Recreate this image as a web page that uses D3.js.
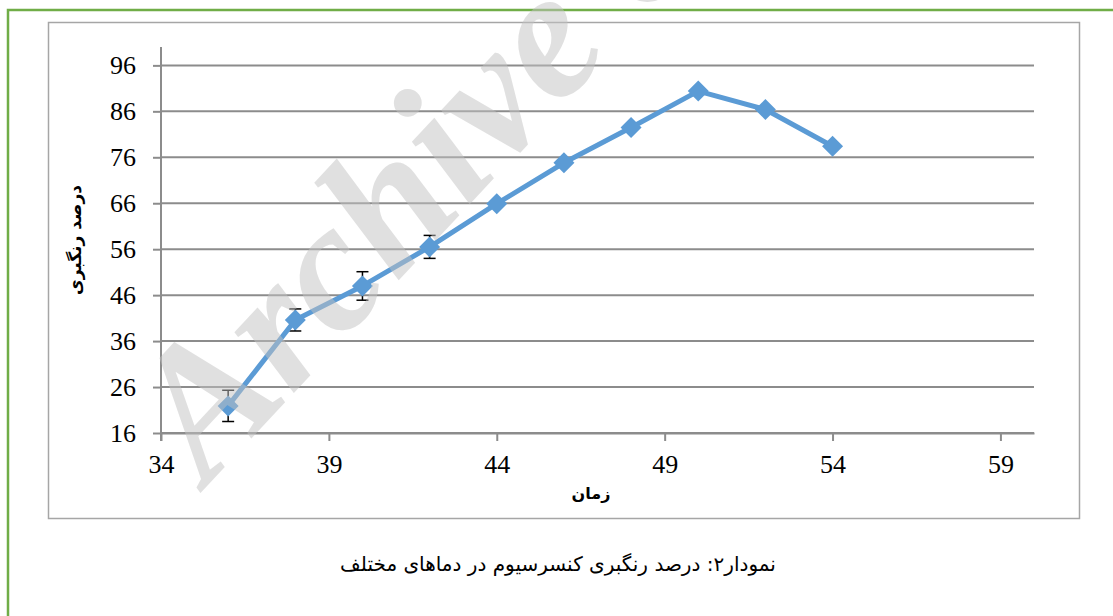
<!DOCTYPE html>
<html>
<head>
<meta charset="utf-8">
<script src="https://cdn.jsdelivr.net/npm/d3@7"></script>
<style>
  body { margin: 0; background: #fff; }
  svg { display: block; }
</style>
</head>
<body>
<svg width="1113" height="616"></svg>
<script>
var width = 1113, height = 616

// data
var times = [36, 38, 40, 42, 44, 46, 48, 50, 52, 54]
var percents = [21.9, 40.6, 48.0, 56.5, 65.9, 74.8, 82.5, 90.4, 86.4, 78.4]
var errors = [3.4, 2.4, 3.1, 2.5, 0, 0, 0, 0, 0, 0]
var xTicks = [34, 39, 44, 49, 54, 59]
var yTicks = [16, 26, 36, 46, 56, 66, 76, 86, 96]

var xTitle = "زمان"
var yTitle = "درصد رنگبری"
var caption = "نمودار۲: درصد رنگبری کنسرسیوم در دماهای مختلف"
var watermark = "Archive of SID"

var blue = "#5B9BD5", grid = "#8c8c8c"

var svg = d3.select("svg")

var x = d3.scaleLinear().domain([34, 60]).range([161, 1034])
var y = d3.scaleLinear().domain([16, 100]).range([433, 47])

// outer green frame and chart box
svg.append("rect")
  .attr("x", 8).attr("y", 10).attr("width", 1120).attr("height", 620)
  .attr("fill", "none").attr("stroke", "#70AD47").attr("stroke-width", 2.5)

svg.append("rect")
  .attr("x", 48.5).attr("y", 22.5).attr("width", 1031).attr("height", 496)
  .attr("fill", "none").attr("stroke", "#a6a6a6").attr("stroke-width", 1.5)

// horizontal grid lines
svg.append("g").selectAll("line")
  .data(yTicks)
  .enter().append("line")
  .attr("x1", x(34)).attr("x2", x(60))
  .attr("y1", function(d) { return y(d) })
  .attr("y2", function(d) { return y(d) })
  .attr("stroke", grid).attr("stroke-width", 2)

// axes
var yAxis = svg.append("g")
  .attr("transform", "translate(" + x(34) + ",0)")
  .call(d3.axisLeft(y).tickValues(yTicks).tickSize(8).tickPadding(17).tickSizeOuter(0))

var xAxis = svg.append("g")
  .attr("transform", "translate(0," + y(16) + ")")
  .call(d3.axisBottom(x).tickValues(xTicks).tickSize(8).tickPadding(14).tickSizeOuter(0))

svg.selectAll(".domain").attr("stroke", grid).attr("stroke-width", 2)
svg.selectAll(".tick line").attr("stroke", grid).attr("stroke-width", 2)
svg.selectAll(".tick text")
  .attr("font-family", "'Liberation Serif', 'Times New Roman', serif")
  .attr("font-size", 26).attr("fill", "#000")

yAxis.select(".domain").attr("d", "M0," + y(100) + "V" + (y(16) + 8))

// axis titles
svg.append("text")
  .attr("transform", "translate(81,240) rotate(-90)")
  .attr("text-anchor", "middle")
  .attr("font-family", "'DejaVu Sans', sans-serif")
  .attr("font-weight", "bold").attr("font-size", 17)
  .text(yTitle)

svg.append("text")
  .attr("x", 591).attr("y", 499)
  .attr("text-anchor", "middle")
  .attr("font-family", "'DejaVu Sans', sans-serif")
  .attr("font-weight", "bold").attr("font-size", 16)
  .text(xTitle)

// error bars
var eb = svg.append("g").selectAll("g")
  .data(times.map(function(t, i) { return {t: t, v: percents[i], e: errors[i]} }).filter(function(d) { return d.e > 0 }))
  .enter().append("g")
  .attr("stroke", "#000").attr("stroke-width", 1.5)

eb.append("line")
  .attr("x1", function(d) { return x(d.t) }).attr("x2", function(d) { return x(d.t) })
  .attr("y1", function(d) { return y(d.v - d.e) }).attr("y2", function(d) { return y(d.v + d.e) })
eb.append("line")
  .attr("x1", function(d) { return x(d.t) - 6 }).attr("x2", function(d) { return x(d.t) + 6 })
  .attr("y1", function(d) { return y(d.v + d.e) }).attr("y2", function(d) { return y(d.v + d.e) })
eb.append("line")
  .attr("x1", function(d) { return x(d.t) - 6 }).attr("x2", function(d) { return x(d.t) + 6 })
  .attr("y1", function(d) { return y(d.v - d.e) }).attr("y2", function(d) { return y(d.v - d.e) })

// series line and diamond markers
var line = d3.line()
  .x(function(d, i) { return x(times[i]) })
  .y(function(d) { return y(d) })

svg.append("path")
  .datum(percents)
  .attr("d", line)
  .attr("fill", "none").attr("stroke", blue)
  .attr("stroke-width", 5).attr("stroke-linejoin", "round")

svg.append("g").selectAll("path")
  .data(percents)
  .enter().append("path")
  .attr("d", "M0,-10.5L10.5,0L0,10.5L-10.5,0Z")
  .attr("transform", function(d, i) { return "translate(" + x(times[i]) + "," + y(d) + ")" })
  .attr("fill", blue)

// caption
svg.append("text")
  .attr("x", 558).attr("y", 571)
  .attr("text-anchor", "middle")
  .attr("font-family", "'DejaVu Sans', sans-serif")
  .attr("font-size", 20)
  .text(caption)

// watermark over everything
svg.append("text")
  .attr("transform", "translate(207,486) rotate(-47)")
  .attr("font-family", "'Liberation Serif', 'Times New Roman', serif")
  .attr("font-weight", "bold").attr("font-style", "italic")
  .attr("font-size", 185)
  .attr("fill", "#c2c2c2").attr("fill-opacity", 0.5)
  .text(watermark)
</script>
</body>
</html>
